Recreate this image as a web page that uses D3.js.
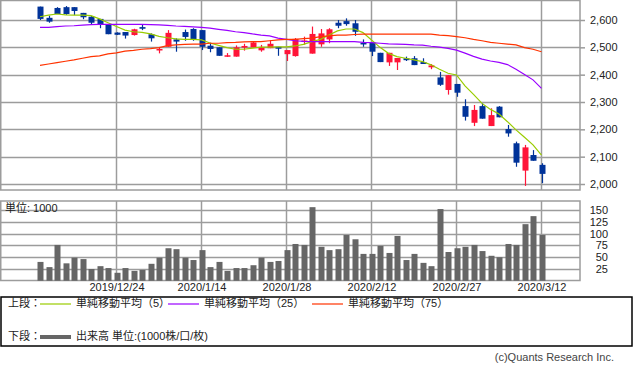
<!DOCTYPE html>
<html>
<head>
<meta charset="utf-8">
<script src="https://cdn.jsdelivr.net/npm/d3@7"></script>
<style>
  body { margin: 0; background: #fff; }
  svg { display: block; font-family: "Liberation Sans", "Noto Sans CJK JP", sans-serif; }
</style>
</head>
<body>
<div id="chart"></div>
<script>
// daily candles, 2019/12/11 - 2020/3/12
const dates = [
  "2019/12/11", "2019/12/12", "2019/12/13", "2019/12/16", "2019/12/17", "2019/12/18", "2019/12/19",
  "2019/12/20", "2019/12/23", "2019/12/24", "2019/12/25", "2019/12/26", "2019/12/27", "2019/12/30",
  "2020/1/6", "2020/1/7", "2020/1/8", "2020/1/9", "2020/1/10", "2020/1/14", "2020/1/15", "2020/1/16",
  "2020/1/17", "2020/1/20", "2020/1/21", "2020/1/22", "2020/1/23", "2020/1/24", "2020/1/27", "2020/1/28",
  "2020/1/29", "2020/1/30", "2020/1/31", "2020/2/3", "2020/2/4", "2020/2/5", "2020/2/6", "2020/2/7",
  "2020/2/10", "2020/2/12", "2020/2/13", "2020/2/14", "2020/2/17", "2020/2/18", "2020/2/19", "2020/2/20",
  "2020/2/21", "2020/2/25", "2020/2/26", "2020/2/27", "2020/2/28", "2020/3/2", "2020/3/3", "2020/3/4",
  "2020/3/5", "2020/3/6", "2020/3/9", "2020/3/10", "2020/3/11", "2020/3/12"
]
const opens = [
  2649, 2608, 2644, 2647, 2647, 2626, 2612, 2604, 2582, 2554, 2556, 2545, 2574, 2548,
  2492, 2502, 2529, 2556, 2567, 2563, 2506, 2500, 2469, 2466, 2499, 2500, 2489, 2497, 2502, 2475,
  2468, 2522, 2477, 2511, 2529, 2590, 2596, 2588, 2516, 2517, 2480, 2445, 2445, 2460, 2460, 2446,
  2427, 2390, 2344, 2366, 2285, 2224, 2285, 2212, 2283, 2201, 2149, 2049, 2106, 2070
]
const highs = [
  2649, 2616, 2647, 2651, 2647, 2626, 2615, 2604, 2585, 2555, 2556, 2568, 2582, 2551,
  2500, 2563, 2533, 2565, 2570, 2563, 2517, 2500, 2479, 2507, 2513, 2520, 2509, 2526, 2502, 2490,
  2534, 2539, 2576, 2567, 2570, 2600, 2606, 2600, 2529, 2517, 2480, 2480, 2461, 2466, 2468, 2460,
  2439, 2410, 2399, 2366, 2310, 2289, 2295, 2277, 2285, 2216, 2155, 2143, 2124, 2076
]
const lows = [
  2600, 2590, 2622, 2619, 2618, 2603, 2585, 2570, 2548, 2545, 2532, 2543, 2563, 2521,
  2478, 2502, 2484, 2524, 2524, 2490, 2482, 2469, 2465, 2466, 2488, 2500, 2484, 2497, 2469, 2450,
  2466, 2510, 2477, 2502, 2515, 2570, 2579, 2542, 2502, 2468, 2446, 2432, 2417, 2450, 2435, 2439,
  2420, 2359, 2327, 2319, 2232, 2212, 2239, 2212, 2244, 2173, 2063, 1993, 2085, 2003
]
const closes = [
  2604, 2594, 2622, 2622, 2633, 2610, 2590, 2585, 2548, 2546, 2543, 2566, 2568, 2533,
  2494, 2553, 2521, 2538, 2527, 2502, 2494, 2469, 2471, 2500, 2505, 2518, 2500, 2513, 2495, 2490,
  2531, 2525, 2549, 2551, 2566, 2579, 2585, 2557, 2514, 2484, 2446, 2480, 2461, 2453, 2435, 2439,
  2434, 2363, 2398, 2334, 2246, 2271, 2239, 2252, 2244, 2185, 2078, 2134, 2085, 2037
]
// moving averages as drawn
const ma5 = [
  2612, 2618, 2622, 2619, 2618, 2618, 2616, 2604, 2590, 2576, 2563, 2557, 2555, 2549,
  2540, 2535, 2531, 2529, 2529, 2527, 2516, 2507, 2499, 2493, 2493, 2497, 2501, 2501, 2502, 2502,
  2505, 2511, 2521, 2529, 2545, 2560, 2567, 2567, 2554, 2527, 2500, 2478, 2466, 2460, 2454, 2448,
  2436, 2420, 2405, 2399, 2359, 2328, 2295, 2273, 2256, 2228, 2198, 2171, 2143, 2106
]
const ma25 = [
  2573, 2573, 2576, 2578, 2579, 2581, 2583, 2584, 2584, 2584, 2584, 2584, 2584, 2583,
  2582, 2580, 2578, 2577, 2575, 2573, 2570, 2566, 2562, 2557, 2554, 2549, 2545, 2542, 2534, 2529,
  2524, 2522, 2521, 2521, 2521, 2521, 2521, 2521, 2518, 2517, 2515, 2513, 2512, 2511, 2509, 2508,
  2504, 2501, 2496, 2490, 2479, 2467, 2457, 2450, 2445, 2437, 2420, 2401, 2381, 2350
]
const ma75 = [
  2434, 2439, 2444, 2449, 2454, 2460, 2466, 2469, 2476, 2480, 2486, 2489, 2493, 2495,
  2499, 2506, 2509, 2511, 2512, 2512, 2515, 2515, 2517, 2518, 2520, 2521, 2521, 2524, 2527, 2529,
  2529, 2532, 2534, 2539, 2542, 2545, 2545, 2547, 2548, 2548, 2548, 2548, 2548, 2548, 2548, 2548,
  2548, 2545, 2543, 2539, 2535, 2529, 2524, 2518, 2515, 2512, 2509, 2499, 2493, 2484
]
// volume, thousands
const volumes = [
  40, 29, 76, 37, 49, 46, 25, 31, 27, 17, 27, 21, 23, 36,
  49, 69, 67, 49, 44, 65, 29, 40, 21, 27, 27, 33, 49, 40, 42, 65,
  78, 76, 156, 72, 65, 67, 97, 88, 57, 57, 74, 59, 95, 44, 57, 38,
  31, 152, 61, 69, 72, 76, 63, 53, 50, 78, 76, 120, 137, 97
]
const priceTicks = [2000, 2100, 2200, 2300, 2400, 2500, 2600]
const volumeTicks = [25, 50, 75, 100, 125, 150]
const dateTicks = ["2019/12/24", "2020/1/14", "2020/1/28", "2020/2/12", "2020/2/27", "2020/3/12"]

const width = 633
const height = 373
const plotRight = 580
const main = { top: 0.5, bottom: 190 }
const vol = { top: 201, bottom: 280.5 }
const gridColor = "#9c9c9c"
const upColor = "#ff1438"
const downColor = "#003399"

const candles = dates.map((d, i) => ({
  date: d, open: opens[i], high: highs[i], low: lows[i], close: closes[i],
  volume: volumes[i], ma5: ma5[i], ma25: ma25[i], ma75: ma75[i]
}))

const svg = d3.select("#chart").append("svg")
  .attr("width", width)
  .attr("height", height)

const xScale = d3.scalePoint().domain(dates).range([40, 541.5])
const yScale = d3.scaleLinear().domain([2000, 2600]).range([184, 20])
const vScale = d3.scaleLinear().domain([0, 150]).range([280.8, 210])

// grid
const grid = svg.append("g").attr("stroke", gridColor).attr("stroke-width", 1.5)
grid.selectAll("line.hp").data(priceTicks).join("line")
  .attr("class", "hp")
  .attr("x1", 0.5).attr("x2", plotRight)
  .attr("y1", d => Math.round(yScale(d)) + 0.5).attr("y2", d => Math.round(yScale(d)) + 0.5)
grid.selectAll("line.hv").data(volumeTicks).join("line")
  .attr("class", "hv")
  .attr("x1", 0.5).attr("x2", plotRight)
  .attr("y1", d => Math.round(vScale(d)) + 0.5).attr("y2", d => Math.round(vScale(d)) + 0.5)
grid.selectAll("line.vm").data(dateTicks).join("line")
  .attr("class", "vm")
  .attr("x1", d => xScale(d)).attr("x2", d => xScale(d))
  .attr("y1", main.top).attr("y2", main.bottom)
grid.selectAll("line.vv").data(dateTicks).join("line")
  .attr("class", "vv")
  .attr("x1", d => xScale(d)).attr("x2", d => xScale(d))
  .attr("y1", vol.top).attr("y2", vol.bottom)

// panel frames
svg.append("rect")
  .attr("x", 0.75).attr("y", main.top)
  .attr("width", plotRight - 0.75).attr("height", main.bottom - main.top)
  .attr("fill", "none").attr("stroke", gridColor).attr("stroke-width", 1.5)
svg.append("rect")
  .attr("x", 0.75).attr("y", vol.top)
  .attr("width", plotRight - 0.75).attr("height", vol.bottom - vol.top)
  .attr("fill", "none").attr("stroke", gridColor).attr("stroke-width", 1.5)

// candles
const candle = svg.append("g").selectAll("g").data(candles).join("g")
  .attr("fill", d => d.close >= d.open ? upColor : downColor)
  .attr("stroke", d => d.close >= d.open ? upColor : downColor)
candle.append("line")
  .attr("x1", d => Math.round(xScale(d.date)) + 0.5)
  .attr("x2", d => Math.round(xScale(d.date)) + 0.5)
  .attr("y1", d => yScale(d.high))
  .attr("y2", d => yScale(d.low))
  .attr("stroke-width", 1.2)
candle.append("rect")
  .attr("x", d => Math.round(xScale(d.date)) - 2.5)
  .attr("width", 6)
  .attr("y", d => yScale(Math.max(d.open, d.close)))
  .attr("height", d => Math.max(1.5, yScale(Math.min(d.open, d.close)) - yScale(Math.max(d.open, d.close))))
  .attr("stroke", "none")

// moving averages
const maSeries = [
  { key: "ma5", color: "#99cc00" },
  { key: "ma25", color: "#9900ff" },
  { key: "ma75", color: "#ff3300" }
]
svg.append("g").selectAll("path").data(maSeries).join("path")
  .attr("d", s => d3.line().x(d => xScale(d.date)).y(d => yScale(d[s.key]))(candles))
  .attr("fill", "none")
  .attr("stroke", s => s.color)
  .attr("stroke-width", 1.2)

// volume bars
svg.append("g").selectAll("rect").data(candles).join("rect")
  .attr("x", d => Math.round(xScale(d.date)) - 2.5)
  .attr("width", 6)
  .attr("y", d => vScale(d.volume))
  .attr("height", d => vScale(0) - vScale(d.volume))
  .attr("fill", "#666666")

// axes
const priceAxis = svg.append("g")
  .attr("transform", `translate(${plotRight}, 0)`)
  .call(d3.axisRight(yScale).tickValues(priceTicks).tickFormat(d3.format(",")).tickSize(5).tickPadding(5))
const volAxis = svg.append("g")
  .attr("transform", `translate(${plotRight}, 0)`)
  .call(d3.axisRight(vScale).tickValues(volumeTicks).tickSize(0).tickPadding(28))
volAxis.selectAll("text").attr("text-anchor", "end")
const dateAxis = svg.append("g")
  .attr("transform", `translate(0, ${vol.bottom})`)
  .call(d3.axisBottom(xScale).tickValues(dateTicks).tickSize(0).tickPadding(3))

for (const ax of [priceAxis, volAxis, dateAxis]) {
  ax.select(".domain").remove()
  ax.selectAll("line").attr("stroke", gridColor).attr("stroke-width", 1.5)
  ax.selectAll("text").attr("fill", "#222").style("font-size", "11px")
  ax.attr("font-family", null)
}

svg.append("text")
  .attr("x", 5).attr("y", 209.5)
  .attr("dominant-baseline", "middle")
  .attr("fill", "#222").style("font-size", "11px")
  .text("単位: 1000")

// legend
const legend = svg.append("g").style("font-size", "11px").attr("fill", "#222")
legend.append("rect")
  .attr("x", 1).attr("y", 297).attr("width", 631).attr("height", 49)
  .attr("fill", "none").attr("stroke", "#000").attr("stroke-width", 1.5)

const legendTop = [
  { x: 40, label: "単純移動平均（5）", color: "#99cc00" },
  { x: 168, label: "単純移動平均（25）", color: "#9900ff" },
  { x: 312, label: "単純移動平均（75）", color: "#ff3300" }
]
legend.append("text").attr("x", 8).attr("y", 304).attr("dominant-baseline", "middle").text("上段：")
legend.selectAll("line.top").data(legendTop).join("line")
  .attr("class", "top")
  .attr("x1", d => d.x).attr("x2", d => d.x + 31)
  .attr("y1", 304).attr("y2", 304)
  .attr("stroke", d => d.color).attr("stroke-width", 1.2)
legend.selectAll("text.top").data(legendTop).join("text")
  .attr("class", "top")
  .attr("x", d => d.x + 36).attr("y", 304)
  .attr("dominant-baseline", "middle")
  .text(d => d.label)

legend.append("text").attr("x", 8).attr("y", 337).attr("dominant-baseline", "middle").text("下段：")
legend.append("line")
  .attr("x1", 40).attr("x2", 71).attr("y1", 337).attr("y2", 337)
  .attr("stroke", "#666").attr("stroke-width", 4)
legend.append("text").attr("x", 76).attr("y", 337).attr("dominant-baseline", "middle")
  .text("出来高 単位:(1000株/口/枚)")

svg.append("text")
  .attr("x", 614).attr("y", 358)
  .attr("text-anchor", "end").attr("dominant-baseline", "middle")
  .attr("fill", "#444").style("font-size", "11px")
  .text("(c)Quants Research Inc.")
</script>
</body>
</html>
